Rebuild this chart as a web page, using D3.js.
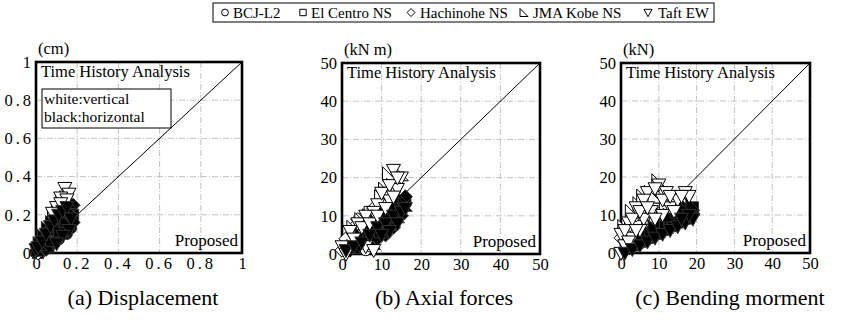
<!DOCTYPE html>
<html><head><meta charset="utf-8">
<script src="https://cdn.jsdelivr.net/npm/d3@7"></script>
<style>
body{margin:0;background:#fff}
svg{display:block}
</style>
</head><body><svg id="c" width="845" height="324"></svg>
<script>
// ---------------- data ----------------
const earthquakes = ["BCJ-L2","El Centro NS","Hachinohe NS","JMA Kobe NS","Taft EW"];
const dispTicks = [0,0.2,0.4,0.6,0.8,1];
const forceTicks = [0,10,20,30,40,50];
const units = ["(cm)","(kN m)","(kN)"];
const captions = ["(a) Displacement","(b) Axial forces","(c) Bending morment"];
const panelTitle = "Time History Analysis";
const panelXName = "Proposed";
const noteLines = ["white:vertical","black:horizontal"];

// [proposed, time history] pairs; _v = vertical (white), _h = horizontal (black)
// (a) displacement (cm)
const dispBCJ_v = [[0,0],[0.01,0.01],[0.02,0.03],[0.03,0.04],[0.05,0.06]];
const dispBCJ_h = [[0,0],[0.02,0.02],[0.04,0.05],[0.06,0.08],[0.08,0.1],[0.1,0.12],[0.12,0.14],[0.14,0.16],[0.16,0.18],[0.17,0.13],[0.15,0.1],[0.11,0.07],[0.07,0.04],[0.03,0.01]];
const dispElC_v = [[0.01,0.02],[0.02,0.02],[0.04,0.06]];
const dispElC_h = [[0.01,0],[0.03,0.05],[0.05,0.09],[0.07,0.12],[0.09,0.15],[0.11,0.17],[0.13,0.2],[0.15,0.22],[0.17,0.24],[0.18,0.2],[0.16,0.15],[0.13,0.11],[0.1,0.08],[0.06,0.03]];
const dispHac_v = [[0.01,0],[0.03,0.03],[0.05,0.08]];
const dispHac_h = [[0,0.01],[0.02,0.04],[0.04,0.07],[0.06,0.11],[0.08,0.14],[0.1,0.18],[0.12,0.2],[0.14,0.23],[0.16,0.26],[0.18,0.25],[0.17,0.2],[0.18,0.16],[0.14,0.13],[0.09,0.06],[0.05,0.02]];
const dispJMA_v = [[0.13,0.27],[0.15,0.29],[0.11,0.23],[0.09,0.2]];
const dispJMA_h = [[0.01,0.02],[0.02,0.05],[0.04,0.09],[0.06,0.13],[0.08,0.16],[0.1,0.19],[0.12,0.22],[0.14,0.25],[0.16,0.27],[0.17,0.23],[0.15,0.17],[0.12,0.12],[0.08,0.07]];
const dispTaf_v = [[0.14,0.34],[0.16,0.31],[0.12,0.29],[0.15,0.28],[0.1,0.24],[0.12,0.26],[0.08,0.21]];
const dispTaf_h = [[0,0.02],[0.01,0.03],[0.03,0.06],[0.05,0.1],[0.07,0.14],[0.09,0.17],[0.11,0.2],[0.13,0.22],[0.15,0.24],[0.17,0.18],[0.16,0.12],[0.13,0.09],[0.1,0.05]];

// (b) axial forces (kN m)
const axBCJ_v = [[1,2],[2,4],[3,5],[5,8],[6,1],[7,2]];
const axBCJ_h = [[2,2],[4,3],[6,5],[8,6],[10,8],[12,9],[14,11],[15,13],[13,12],[11,10],[9,8],[7,6]];
const axElC_v = [[1,1],[2,3],[4,6],[5,9],[7,11]];
const axElC_h = [[3,3],[5,4],[7,6],[9,8],[11,9],[13,11],[15,12],[16,14],[12,8],[10,6],[8,5],[6,4]];
const axHac_v = [[0,1],[1,4],[3,7],[4,9],[8,12]];
const axHac_h = [[2,1],[4,2],[6,4],[8,7],[10,9],[12,11],[14,13],[16,15],[15,10],[13,7],[11,5],[9,4]];
const axJMA_v = [[12,21],[15,21],[11,17],[13,18],[10,15],[7,10],[5,9],[3,7]];
const axJMA_h = [[3,2],[5,5],[7,7],[9,9],[11,11],[13,13],[15,15],[16,13],[14,10],[12,8],[10,6],[8,3]];
const axTaf_v = [[13,22],[15,20],[11,16],[12,14],[9,13],[8,11],[6,10],[4,8],[2,6],[0,2],[1,0],[6,2],[8,1],[14,17],[10,16],[12,18],[14,20],[5,7],[3,4],[7,8],[9,10],[11,12],[13,15]];
const axTaf_h = [[1,1],[3,2],[5,3],[7,5],[9,7],[11,8],[13,10],[15,11],[16,12],[14,8],[12,6],[10,5]];

// (c) bending moment (kN)
const shBCJ_v = [[1,3],[3,6],[5,8],[7,9],[9,10]];
const shBCJ_h = [[2,1],[4,2],[6,3],[8,4],[10,5],[12,6],[14,7],[16,8],[18,9],[19,11],[17,10],[15,9]];
const shElC_v = [[2,5],[4,8],[6,10],[8,12],[11,12]];
const shElC_h = [[3,2],[5,3],[7,4],[9,6],[11,7],[13,8],[15,9],[17,10],[19,12],[18,11],[14,10],[10,7]];
const shHac_v = [[0,4],[2,7],[4,10],[6,12],[9,13],[12,13]];
const shHac_h = [[1,1],[3,2],[5,3],[7,5],[9,5],[11,6],[13,8],[15,8],[17,9],[19,10],[16,11],[12,9]];
const shJMA_v = [[10,19],[8,16],[5,13],[3,11],[14,15],[16,14],[11,15],[6,15],[9,15],[12,12],[15,12],[1,7]];
const shJMA_h = [[2,2],[4,3],[6,4],[8,5],[10,6],[12,7],[14,9],[16,10],[18,12],[19,13],[13,10],[9,7],[17,12],[15,11]];
const shTaf_v = [[10,18],[17,16],[7,16],[4,12],[2,8],[0,5],[8,11],[13,12],[15,14],[12,16],[18,15],[6,9],[1,2],[3,4],[5,6],[0,0],[11,10],[14,11],[1,6],[3,9],[5,11],[6,14],[9,17],[11,14],[13,15],[16,15],[2,3],[4,6],[7,12],[9,9]];
const shTaf_h = [[1,0],[3,1],[5,2],[7,3],[9,4],[11,5],[13,6],[15,7],[17,8],[19,9],[18,10],[16,9]];

// ---------------- layout / style ----------------
const FONT = "'Liberation Serif', Tinos, 'Times New Roman', 'DejaVu Serif', serif";
const svg = d3.select("#c").attr("font-family", FONT);
const shapes = ["circle","square","diamond","rtri","dtri"];

function shapePath(shape, h){
  switch(shape){
    case "circle": { const r=h*0.85; return `M${-r},0A${r},${r} 0 1,0 ${r},0A${r},${r} 0 1,0 ${-r},0Z`; }
    case "square": { const a=h*0.8; return `M${-a},${-a}H${a}V${a}H${-a}Z`; }
    case "diamond": return `M0,${-h}L${h},0L0,${h}L${-h},0Z`;
    case "rtri": return `M${-h},${-h}L${-h},${h}L${h},${h}Z`;
    case "dtri": return `M${-h},${-h*0.8}L${h},${-h*0.8}L0,${h*1.05}Z`;
  }
}

const panels = [
  {left:36, right:242, top:62, bottom:253, ticks:dispTicks, unit:units[0], caption:captions[0], capX:143, note:true,
   series:[[dispBCJ_v,dispBCJ_h],[dispElC_v,dispElC_h],[dispHac_v,dispHac_h],[dispJMA_v,dispJMA_h],[dispTaf_v,dispTaf_h]]},
  {left:342, right:540, top:63, bottom:254, ticks:forceTicks, unit:units[1], caption:captions[1], capX:444, note:false,
   series:[[axBCJ_v,axBCJ_h],[axElC_v,axElC_h],[axHac_v,axHac_h],[axJMA_v,axJMA_h],[axTaf_v,axTaf_h]]},
  {left:621, right:810, top:63, bottom:253, ticks:forceTicks, unit:units[2], caption:captions[2], capX:730, note:false,
   series:[[shBCJ_v,shBCJ_h],[shElC_v,shElC_h],[shHac_v,shHac_h],[shJMA_v,shJMA_h],[shTaf_v,shTaf_h]]}
];

const fmt = v => String(v);
function txt(sel, size){ return sel.attr("font-family", FONT).attr("font-size", size).attr("fill","#000"); }

panels.forEach(p => {
  const maxV = p.ticks[p.ticks.length-1];
  const x = d3.scaleLinear().domain([0,maxV]).range([p.left,p.right]);
  const y = d3.scaleLinear().domain([0,maxV]).range([p.bottom,p.top]);
  const g = svg.append("g");

  const inner = p.ticks.slice(1,-1);
  g.selectAll(".gx").data(inner).join("line")
    .attr("x1",d=>x(d)).attr("x2",d=>x(d)).attr("y1",p.top).attr("y2",p.bottom)
    .attr("stroke","#c4c4c4").attr("stroke-width",1).attr("stroke-dasharray","6,2,1,2");
  g.selectAll(".gy").data(inner).join("line")
    .attr("y1",d=>y(d)).attr("y2",d=>y(d)).attr("x1",p.left).attr("x2",p.right)
    .attr("stroke","#c4c4c4").attr("stroke-width",1).attr("stroke-dasharray","6,2,1,2");

  g.append("line").attr("x1",x(0)).attr("y1",y(0)).attr("x2",x(maxV)).attr("y2",y(maxV))
    .attr("stroke","#000").attr("stroke-width",1);

  g.append("rect").attr("x",p.left).attr("y",p.top).attr("width",p.right-p.left).attr("height",p.bottom-p.top)
    .attr("fill","none").attr("stroke","#000").attr("stroke-width",2.6);

  const ls = 3;
  const ax = g.append("g").attr("transform",`translate(${p.left},0)`)
    .call(d3.axisLeft(y).tickValues(p.ticks).tickSize(0).tickPadding(5).tickFormat(fmt));
  ax.attr("font-family", FONT);
  ax.select(".domain").remove();
  txt(ax.selectAll("text"),16.5)
    .style("letter-spacing", d => (String(d).includes(".") ? ls : 0)+"px")
    .attr("x", d => String(d).includes(".") ? -5 + ls : -5);
  const bx = g.append("g").attr("transform",`translate(0,${p.bottom})`)
    .call(d3.axisBottom(x).tickValues(p.ticks).tickSize(0).tickPadding(4).tickFormat(fmt));
  bx.attr("font-family", FONT);
  bx.select(".domain").remove();
  txt(bx.selectAll("text"),16.5)
    .style("letter-spacing", d => (String(d).includes(".") ? ls : 0)+"px")
    .attr("dy","0.72em");

  txt(g.append("text"),16.5).attr("x",p.left+2).attr("y",p.top-8).text(p.unit);
  txt(g.append("text"),16.5).attr("x",p.left+5).attr("y",p.top+15).text(panelTitle);
  txt(g.append("text"),17).attr("x",p.right-4).attr("y",p.bottom-7).attr("text-anchor","end").text(panelXName);

  if(p.note){
    g.append("rect").attr("x",p.left+6).attr("y",p.top+27).attr("width",129).attr("height",39)
      .attr("fill","#fff").attr("stroke","#000").attr("stroke-width",1);
    noteLines.forEach((t,i)=>txt(g.append("text"),15.5).attr("x",p.left+8).attr("y",p.top+42+i*18).text(t));
  }

  p.series.forEach((pair,i)=>{
    const shape = shapes[i];
    pair.forEach((pts,k)=>{
      g.append("g").selectAll("path").data(pts).join("path")
        .attr("transform",d=>`translate(${x(d[0])},${y(d[1])})`)
        .attr("d",shapePath(shape, shape==="circle"?6.5:7))
        .attr("fill",k===0?"#fff":"#000")
        .attr("stroke",k===0?"#000":"#333").attr("stroke-width",1);
    });
  });

  txt(svg.append("text"),22).attr("x",p.capX).attr("y",305).attr("text-anchor","middle").text(p.caption);
});

const lg = svg.append("g");
lg.append("rect").attr("x",213).attr("y",3).attr("width",501).attr("height",19)
  .attr("fill","#fff").attr("stroke","#000").attr("stroke-width",1);
const legSymX = [225,303,411,524,648];
const legTxtX = [233,311,420,533,658];
earthquakes.forEach((name,i)=>{
  lg.append("path").attr("transform",`translate(${legSymX[i]},12.5)`).attr("d",shapePath(shapes[i],4))
    .attr("fill","none").attr("stroke","#000").attr("stroke-width",1);
  txt(lg.append("text"),15).attr("x",legTxtX[i]).attr("y",18).text(name);
});
</script></body></html>
